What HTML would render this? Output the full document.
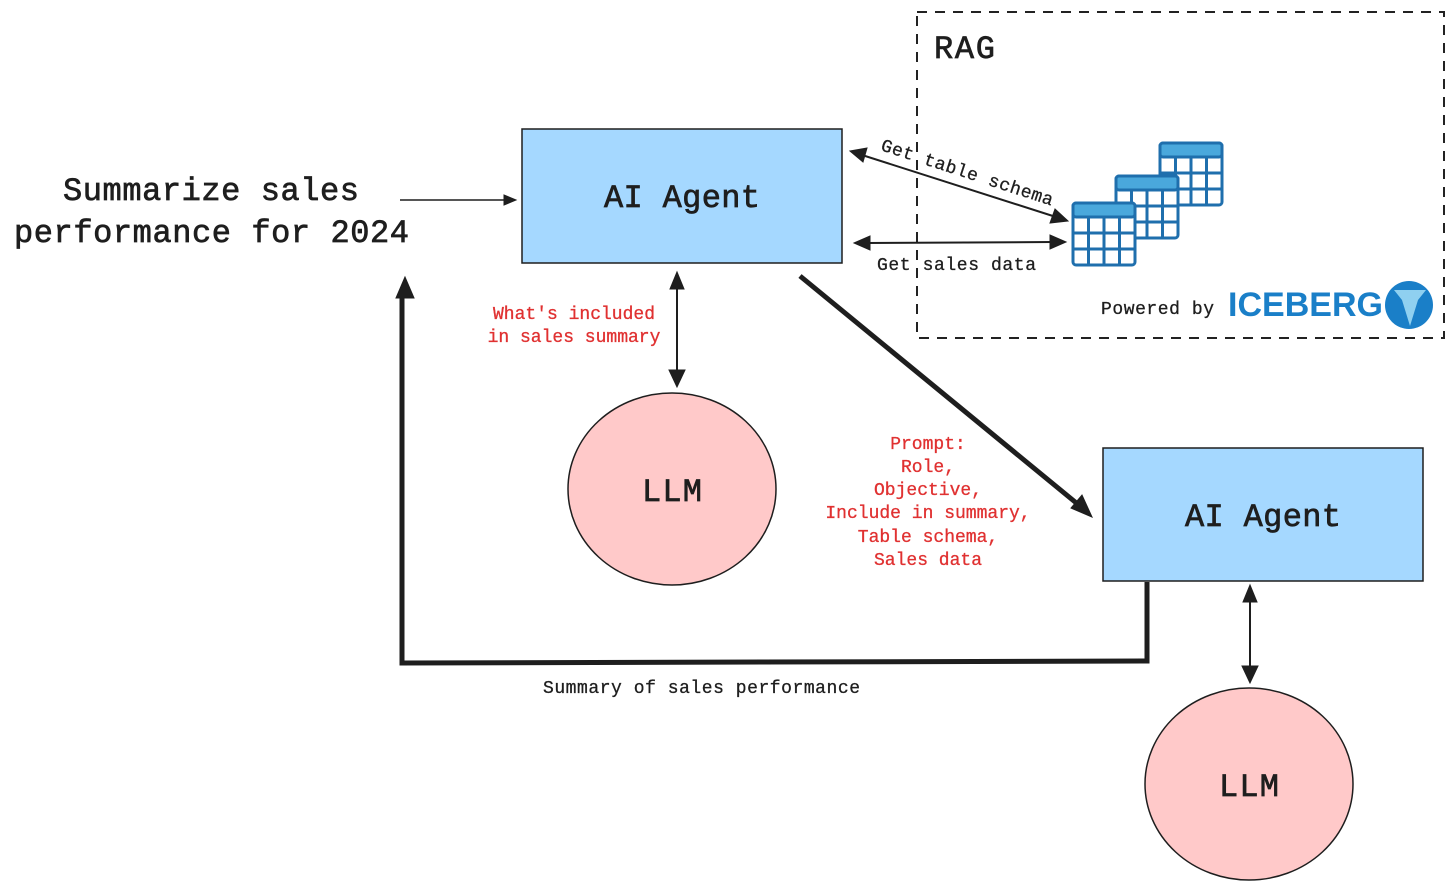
<!DOCTYPE html>
<html><head><meta charset="utf-8"><style>
html,body{margin:0;padding:0;background:#fff;}
svg{display:block;}
text{font-family:"Liberation Mono",monospace;}
.big{stroke:#1e1e1e;stroke-width:0.7;}
.red{stroke:#e03131;stroke-width:0.3;}
.sm{stroke:#1e1e1e;stroke-width:0.3;}
</style></head><body>
<svg width="1456" height="892" viewBox="0 0 1456 892" xmlns="http://www.w3.org/2000/svg">
<rect width="1456" height="892" fill="#fff"/>
<rect x="917" y="12" width="527" height="326" fill="none" stroke="#222" stroke-width="2" stroke-dasharray="10,8"/>
<text class="big" x="934" y="58" font-size="32" fill="#1e1e1e" textLength="61">RAG</text>

<text class="big" x="63" y="200" font-size="32" fill="#1e1e1e" textLength="296">Summarize sales</text>
<text class="big" x="14" y="242" font-size="32" fill="#1e1e1e" textLength="395">performance for 2024</text>

<rect x="522" y="129" width="320" height="134" fill="#a5d8ff" stroke="#1e1e1e" stroke-width="1.5"/>
<text class="big" x="604" y="207" font-size="32" fill="#1e1e1e" textLength="156">AI Agent</text>
<rect x="1103" y="448" width="320" height="133" fill="#a5d8ff" stroke="#1e1e1e" stroke-width="1.5"/>
<text class="big" x="1185" y="526" font-size="32" fill="#1e1e1e" textLength="156">AI Agent</text>

<ellipse cx="672" cy="489" rx="104" ry="96" fill="#ffc9c9" stroke="#1e1e1e" stroke-width="1.5"/>
<text class="big" x="642" y="501" font-size="32" fill="#1e1e1e" textLength="60">LLM</text>
<ellipse cx="1249" cy="784" rx="104" ry="96" fill="#ffc9c9" stroke="#1e1e1e" stroke-width="1.5"/>
<text class="big" x="1219" y="796" font-size="32" fill="#1e1e1e" textLength="60">LLM</text>

<g stroke="#1e1e1e" fill="#1e1e1e">
<line x1="400" y1="200" x2="506" y2="200" stroke-width="1.5"/>
<polygon points="516,200 504,195 504,205"/>
<line x1="677" y1="285" x2="677" y2="375" stroke-width="2"/>
<polygon points="677,272 670,289 684,289"/>
<polygon points="677,387 669,370 685,370"/>
<line x1="862" y1="155" x2="1056" y2="217" stroke-width="2"/>
<polygon points="850,151 867,148 863,162"/>
<polygon points="1068,221 1050,223 1055,209"/>
<line x1="866" y1="243" x2="1054" y2="242" stroke-width="2"/>
<polygon points="854,243 870,236 870,250"/>
<polygon points="1066,242 1050,235 1050,249"/>
<line x1="800" y1="276" x2="1080" y2="506" stroke-width="5"/>
<polygon points="1092,517 1071,508 1082,495"/>
<line x1="1250" y1="598" x2="1250" y2="670" stroke-width="2"/>
<polygon points="1250,585 1243,602 1257,602"/>
<polygon points="1250,683 1242,666 1258,666"/>
<polyline points="1147,582 1147,661 402,663 402,295" fill="none" stroke-width="5"/>
<polygon points="405,277 396,298 414,298"/>
</g>

<g stroke="#1f6fad" stroke-width="3" fill="#fff">
<g transform="translate(1160,143)">
<rect x="0" y="0" width="62" height="62" rx="3"/><rect x="0" y="0" width="62" height="14" fill="#4aa8dc" rx="3"/>
<path d="M15.5 14V62M31 14V62M46.5 14V62M0 30H62M0 46H62" fill="none"/>
</g>
<g transform="translate(1116,176)">
<rect x="0" y="0" width="62" height="62" rx="3"/><rect x="0" y="0" width="62" height="14" fill="#4aa8dc" rx="3"/>
<path d="M15.5 14V62M31 14V62M46.5 14V62M0 30H62M0 46H62" fill="none"/>
</g>
<g transform="translate(1073,203)">
<rect x="0" y="0" width="62" height="62" rx="3"/><rect x="0" y="0" width="62" height="14" fill="#4aa8dc" rx="3"/>
<path d="M15.5 14V62M31 14V62M46.5 14V62M0 30H62M0 46H62" fill="none"/>
</g>
</g>

<text class="sm" x="880" y="150" font-size="18" fill="#1e1e1e" transform="rotate(18 880 150)" textLength="180">Get table schema</text>
<text class="sm" x="877" y="270" font-size="18" fill="#1e1e1e" textLength="159">Get sales data</text>
<text class="sm" x="1101" y="314" font-size="18" fill="#1e1e1e" textLength="113">Powered by</text>
<text x="1228" y="316" font-size="34" font-weight="bold" fill="#1a7fc8" style="font-family:'Liberation Sans',sans-serif" textLength="155">ICEBERG</text>
<circle cx="1409" cy="305" r="24" fill="#1a7fc8"/>
<path d="M1394 290 L1426 290 L1418 300 L1410 326 L1402 300 Z" fill="#8fd0f0"/>

<g class="red" font-size="18" fill="#e03131" text-anchor="middle">
<text x="574" y="319">What's included</text>
<text x="574" y="342">in sales summary</text>
<text x="928" y="449">Prompt:</text>
<text x="928" y="472">Role,</text>
<text x="928" y="495">Objective,</text>
<text x="928" y="518">Include in summary,</text>
<text x="928" y="542">Table schema,</text>
<text x="928" y="565">Sales data</text>
</g>
<text class="sm" x="543" y="693" font-size="18" fill="#1e1e1e" textLength="317">Summary of sales performance</text>
</svg>
</body></html>
